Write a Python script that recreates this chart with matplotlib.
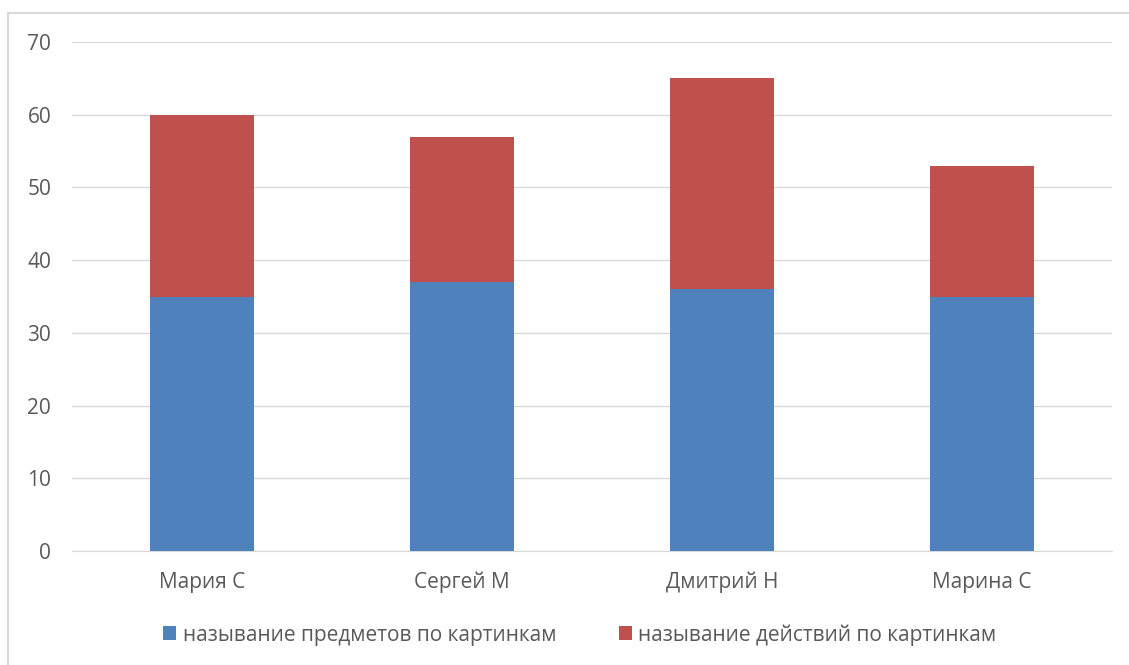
import numpy as np
import matplotlib.pyplot as plt
from matplotlib.patches import Rectangle

plt.rcParams["font.family"] = ["Open Sans", "DejaVu Sans"]

names = ["Мария С", "Сергей М", "Дмитрий Н", "Марина С"]
objects = [35, 37, 36, 35]
actions = [25, 20, 29, 18]
series_labels = ["называние предметов по картинкам", "называние действий по картинкам"]

fg = plt.figure(figsize=(11.29, 6.65), dpi=100)
ax = fg.add_axes([0.0638, 0.1714, 0.9212, 0.7654])

# chart area border
fg.patches.append(
    Rectangle((8 / 1129, -0.01), 1125 / 1129, 1 - 13 / 665 + 0.01,
              transform=fg.transFigure, fill=False, ec="#d9d9d9", lw=1.5)
)

x = np.arange(len(names))
ax.bar(x, objects, width=0.4, color="#4F81BD", label=series_labels[0], zorder=3)
ax.bar(x, actions, width=0.4, bottom=objects, color="#C0504D",
       label=series_labels[1], zorder=3)

ax.set_xlim(-0.5, len(names) - 0.5)
ax.set_ylim(0, 70)
ax.set_yticks(range(0, 71, 10))
ax.set_xticks(x)
ax.set_xticklabels(names)
ax.grid(axis="y", color="#d9d9d9", lw=1, zorder=0)
for s in ["top", "right", "left"]:
    ax.spines[s].set_visible(False)
ax.spines["bottom"].set_color("#d9d9d9")
ax.tick_params(axis="both", length=0, labelsize=15, colors="#595959")
ax.tick_params(axis="x", pad=15)
ax.tick_params(axis="y", pad=15)

ax.legend(loc="center", bbox_to_anchor=(0.488, -0.165), ncol=2, frameon=False,
          fontsize=15, labelcolor="#595959", handlelength=0.65, handleheight=0.65,
          handletextpad=0.3, columnspacing=3.0)

fg.savefig("out.png", dpi=100)
